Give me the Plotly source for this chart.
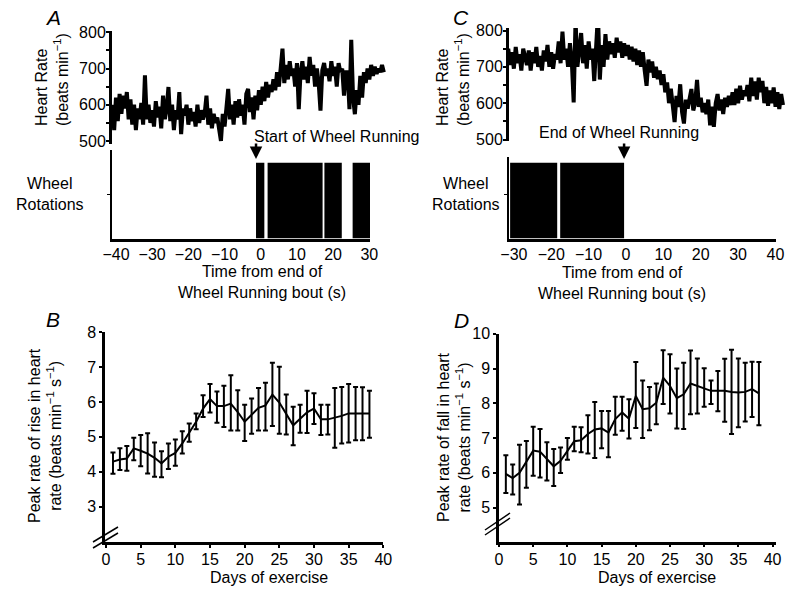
import plotly.graph_objects as go

W, H = 800, 592
FONT = "Liberation Sans, Arial, sans-serif"


def px(x):
    return x / W


def py(y):
    return 1 - y / H


# ---------------- Panel A : heart rate around start of running ----------------
a_t0 = -41.0      # s, first sample
a_dt = 0.5        # s, sample spacing
a_hr = [
    600, 530, 620, 555, 630, 575, 625, 590, 635, 560,
    615, 545, 600, 530, 590, 560, 605, 545, 681, 560,
    600, 550, 585, 540, 610, 565, 595, 535, 625, 560,
    590, 649, 555, 600, 530, 585, 560, 635, 519, 590,
    570, 600, 545, 590, 555, 580, 540, 600, 550, 585,
    560, 575, 625, 545, 590, 535, 575, 550, 565, 525,
    500, 575, 540, 590, 644, 560, 600, 545, 610, 565,
    615, 570, 600, 545, 630, 644, 580, 620, 560, 625,
    585, 640, 600, 650, 610, 663, 620, 655, 635, 670,
    640, 690, 650, 700, 755, 660, 710, 670, 720, 680,
    700, 650, 715, 588, 690, 720, 670, 705, 660, 732,
    680, 710, 650, 700, 660, 584, 695, 715, 680, 700,
    665, 720, 680, 705, 650, 715, 690, 700, 625, 690,
    690, 588, 779, 620, 574, 640, 600, 680, 620, 690,
    660, 700, 670, 710, 680, 705, 685, 700, 690, 710,
    690,
]
a_run_start = [-1.3, 1.9, 17.6, 25.4]
a_run_end = [1.0, 17.1, 22.4, 30.2]

# ---------------- Panel C : heart rate around end of running ----------------
c_t0 = -31.5
c_dt = 0.5
c_hr = [
    750, 705, 740, 695, 755, 710, 735, 690, 750, 720,
    705, 745, 690, 740, 710, 755, 700, 730, 690, 745,
    715, 760, 700, 740, 695, 735, 720, 770, 710, 797,
    720, 750, 700, 765, 715, 602, 829, 700, 755, 793,
    710, 760, 695, 770, 720, 750, 661, 720, 847, 665,
    760, 700, 790, 720, 770, 735, 765, 725, 780, 740,
    770, 725, 765, 730, 760, 720, 755, 715, 750, 705,
    745, 700, 740, 690, 648, 720, 685, 715, 670, 700,
    666, 690, 650, 680, 630, 657, 600, 640, 590, 548,
    620, 590, 652, 575, 544, 610, 585, 620, 639, 580,
    600, 664, 590, 615, 575, 600, 570, 610, 539, 590,
    535, 600, 625, 580, 610, 570, 615, 590, 620, 595,
    630, 595, 640, 600, 648, 610, 635, 620, 650, 605,
    670, 620, 660, 610, 670, 630, 661, 600, 645, 593,
    635, 600, 643, 590, 630, 584, 625, 595,
]
c_run_start = [-31.0, -17.6]
c_run_end = [-18.4, -0.5]

wheel_x_ticks_a = [-40, -30, -20, -10, 0, 10, 20, 30]
wheel_x_ticks_c = [-30, -20, -10, 0, 10, 20, 30, 40]
hr_tickvals = [500, 600, 700, 800]
hr_minor_ticks = [550, 650, 750]

# ---------------- Panels B and D : training data ----------------
days = list(range(1, 39))
b_mean = [4.29, 4.35, 4.38, 4.67, 4.60, 4.52, 4.40, 4.24, 4.43, 4.54,
          4.81, 5.11, 5.43, 5.81, 6.08, 5.88, 5.88, 5.95, 5.71, 5.43,
          5.64, 5.83, 5.90, 6.21, 5.98, 5.64, 5.33, 5.52, 5.70, 5.81,
          5.50, 5.50, 5.54, 5.60, 5.67, 5.67, 5.67, 5.67]
b_upper = [4.55, 4.67, 4.74, 4.97, 5.05, 5.10, 4.84, 4.59, 4.81, 4.92,
           5.16, 5.38, 5.67, 6.19, 6.51, 6.30, 6.46, 6.76, 6.33, 5.92,
           6.10, 6.40, 6.55, 7.12, 7.01, 6.21, 5.86, 5.92, 6.32, 6.25,
           5.92, 5.92, 6.40, 6.43, 6.51, 6.43, 6.42, 6.32]
b_lower = [3.94, 4.05, 4.03, 4.33, 4.16, 3.95, 3.86, 3.84, 4.08, 4.17,
           4.52, 4.86, 5.22, 5.57, 5.70, 5.40, 5.28, 5.18, 5.18, 4.88,
           5.09, 5.18, 5.18, 5.31, 5.09, 5.07, 4.76, 5.12, 5.11, 5.37,
           5.05, 5.07, 4.69, 4.81, 4.84, 4.90, 4.90, 4.97]

d_mean = [5.97, 5.85, 6.00, 6.33, 6.64, 6.61, 6.40, 6.19, 6.35, 6.64,
          6.91, 6.94, 7.12, 7.25, 7.28, 7.16, 7.55, 7.74, 7.56, 8.21,
          7.83, 7.86, 8.02, 8.74, 8.50, 8.15, 8.26, 8.57, 8.50, 8.43,
          8.36, 8.36, 8.36, 8.33, 8.31, 8.33, 8.41, 8.29]
d_upper = [6.51, 6.24, 6.81, 6.92, 7.33, 7.26, 6.88, 6.69, 6.73, 7.00,
           7.33, 7.31, 7.66, 8.04, 7.78, 7.78, 8.19, 8.19, 8.12, 9.19,
           8.66, 8.47, 8.57, 9.53, 9.41, 9.00, 9.17, 9.52, 9.29, 9.01,
           8.66, 8.93, 9.28, 9.54, 9.29, 9.17, 9.20, 9.19]
d_lower = [5.42, 5.38, 5.09, 5.57, 5.92, 5.87, 5.78, 5.62, 6.00, 6.38,
           6.62, 6.59, 6.56, 6.43, 6.71, 6.45, 7.10, 7.21, 6.99, 7.29,
           7.00, 7.23, 7.40, 7.98, 7.71, 7.28, 7.26, 7.69, 7.71, 7.90,
           7.98, 7.77, 7.47, 7.12, 7.31, 7.48, 7.61, 7.37]

fig = go.Figure()

# heart rate traces
fig.add_trace(go.Scatter(x0=a_t0, dx=a_dt, y=a_hr, mode="lines",
                         line=dict(color="black", width=4),
                         xaxis="x", yaxis="y", hoverinfo="skip"))
fig.add_trace(go.Scatter(x0=c_t0, dx=c_dt, y=c_hr, mode="lines",
                         line=dict(color="black", width=4),
                         xaxis="x3", yaxis="y3", hoverinfo="skip"))


def bars(starts, ends, xa, ya):
    return go.Bar(x=[(s + e) / 2 for s, e in zip(starts, ends)],
                  y=[1] * len(starts),
                  width=[e - s for s, e in zip(starts, ends)],
                  marker=dict(color="black", line=dict(width=0)),
                  xaxis=xa, yaxis=ya, hoverinfo="skip")


fig.add_trace(bars(a_run_start, a_run_end, "x2", "y2"))
fig.add_trace(bars(c_run_start, c_run_end, "x4", "y4"))


def err_trace(mean, upper, lower, xa, ya):
    return go.Scatter(
        x=days, y=mean, mode="lines",
        line=dict(color="black", width=2),
        error_y=dict(type="data", symmetric=False,
                     array=[u - m for u, m in zip(upper, mean)],
                     arrayminus=[m - l for m, l in zip(mean, lower)],
                     color="black", thickness=2, width=2.5),
        xaxis=xa, yaxis=ya, hoverinfo="skip")


fig.add_trace(err_trace(b_mean, b_upper, b_lower, "x5", "y5"))
fig.add_trace(err_trace(d_mean, d_upper, d_lower, "x6", "y6"))

tickfont = dict(family=FONT, size=16, color="black")
hidden_x = dict(visible=False, showgrid=False, zeroline=False, automargin=False)
hr_y = dict(tickvals=hr_tickvals, ticks="outside",
            ticklen=3, tickwidth=2, tickcolor="black", showline=True,
            linewidth=3, linecolor="black", showgrid=False, zeroline=False,
            tickfont=tickfont, ticklabelstandoff=-3, automargin=False,
            minor=dict(tickvals=hr_minor_ticks, ticks="outside", ticklen=3,
                       tickwidth=2, tickcolor="black", showgrid=False))
wheel_x = dict(showline=True, linewidth=3, linecolor="black", ticks="",
               showgrid=False, zeroline=False, tickfont=tickfont,
               ticklabelstandoff=-1, automargin=False)
wheel_y = dict(showline=True, linewidth=1.5, linecolor="black",
               tickvals=[0.574], showticklabels=False, ticks="outside",
               ticklen=3, tickwidth=1, tickcolor="black", showgrid=False,
               zeroline=False, automargin=False)
day_x = dict(showline=True, linewidth=2.5, linecolor="black",
             tickvals=[0, 5, 10, 15, 20, 25, 30, 35, 40], ticks="outside",
             ticklen=3, tickwidth=1.5, tickcolor="black", showgrid=False,
             zeroline=False, tickfont=tickfont, automargin=False,
             ticklabelstandoff=-2)
day_y = dict(showline=True, linewidth=2.5, linecolor="black",
             ticks="outside", ticklen=3, tickwidth=1.5, tickcolor="black",
             showgrid=False, zeroline=False, tickfont=tickfont,
             automargin=False)

fig.update_layout(
    width=W, height=H,
    margin=dict(l=0, r=0, t=0, b=0, pad=0, autoexpand=False),
    paper_bgcolor="white", plot_bgcolor="white", showlegend=False,
    font=dict(family=FONT, size=16, color="black"),
    xaxis=dict(domain=[px(112), px(386)], range=[-41.1, 34.6], anchor="y", **hidden_x),
    yaxis=dict(domain=[py(144), py(31)], range=[491.7, 803.6], anchor="x", **hr_y),
    xaxis2=dict(domain=[px(112), px(370)], range=[-41.1, 30.2], anchor="y2",
                tickvals=wheel_x_ticks_a, **wheel_x),
    yaxis2=dict(domain=[py(238.5), py(150)], range=[0, 1.1675], anchor="x2", **wheel_y),
    xaxis3=dict(domain=[px(509), px(786)], range=[-31.3, 42.8], anchor="y3", **hidden_x),
    yaxis3=dict(domain=[py(141), py(28)], range=[495.9, 806.9], anchor="x3", **hr_y),
    xaxis4=dict(domain=[px(509), px(775.5)], range=[-31.3, 40.02], anchor="y4",
                tickvals=wheel_x_ticks_c, **wheel_x),
    yaxis4=dict(domain=[py(238.5), py(157)], range=[0, 1.075], anchor="x4", **wheel_y),
    xaxis5=dict(domain=[px(105), px(383.3)], range=[-0.15, 40], anchor="y5", **day_x),
    yaxis5=dict(domain=[py(542.3), py(331.7)], range=[1.98, 8.01], anchor="x5",
                tickvals=[3, 4, 5, 6, 7, 8], **day_y),
    xaxis6=dict(domain=[px(499), px(776)], range=[0, 40.5], anchor="y6", **day_x),
    yaxis6=dict(domain=[py(541.7), py(333.5)], range=[4.02, 10.01], anchor="x6",
                tickvals=[5, 6, 7, 8, 9, 10], **day_y),
)

anns = []


def txt(x, y, text, size=16, angle=0, align="center"):
    anns.append(dict(x=px(x), y=py(y), xref="paper", yref="paper", text=text,
                     showarrow=False, textangle=angle, align=align,
                     font=dict(family=FONT, size=size, color="black"),
                     xanchor="center", yanchor="middle"))


txt(53, 18, "<i>A</i>", size=21)
txt(461, 17, "<i>C</i>", size=21)
txt(53, 319, "<i>B</i>", size=21)
txt(461, 320, "<i>D</i>", size=21)
txt(52, 80, "Heart Rate<br>(beats min<sup>\u22121</sup>)", angle=-90, align="left")
txt(453, 80, "Heart Rate<br>(beats min<sup>\u22121</sup>)", angle=-90, align="left")
txt(50, 194, "Wheel<br>Rotations")
txt(466, 194, "Wheel<br>Rotations")
txt(336, 136, "Start of Wheel Running")
txt(619, 132, "End of Wheel Running")
txt(262, 282, "Time from end of<br>Wheel Running bout (s)")
txt(622, 283, "Time from end of<br>Wheel Running bout (s)")
txt(269, 577, "Days of exercise")
txt(657, 577, "Days of exercise")
txt(45, 436, "Peak rate of rise in heart<br>rate (beats min<sup>\u22121</sup> s<sup>\u22121</sup>)", angle=-90)
txt(454, 437, "Peak rate of fall in heart<br>rate (beats min<sup>\u22121</sup> s<sup>\u22121</sup>)", angle=-90)

# arrows marking start / end of running
anns.append(dict(x=a_run_start[0], y=py(159), xref="x2", yref="paper", text="",
                 showarrow=True, ax=0, ay=-17, arrowhead=2, arrowsize=1,
                 arrowwidth=2.5, arrowcolor="black"))
anns.append(dict(x=c_run_end[-1], y=py(159), xref="x4", yref="paper", text="",
                 showarrow=True, ax=0, ay=-17, arrowhead=2, arrowsize=1,
                 arrowwidth=2.5, arrowcolor="black"))
fig.update_layout(annotations=anns)

# axis-break marks
shapes = []
for (x0, y0, x1, y1) in [(93, 542, 118, 527), (93, 548, 118, 533),
                         (485, 530, 510, 513), (485, 535, 510, 518)]:
    shapes.append(dict(type="line", xref="paper", yref="paper",
                       x0=px(x0), y0=py(y0), x1=px(x1), y1=py(y1),
                       line=dict(color="black", width=1.5)))
fig.update_layout(shapes=shapes)

fig.write_html(
    "out.html",
    config={"displayModeBar": False},
    post_script="document.body.style.margin='0';document.body.style.padding='0';",
)
